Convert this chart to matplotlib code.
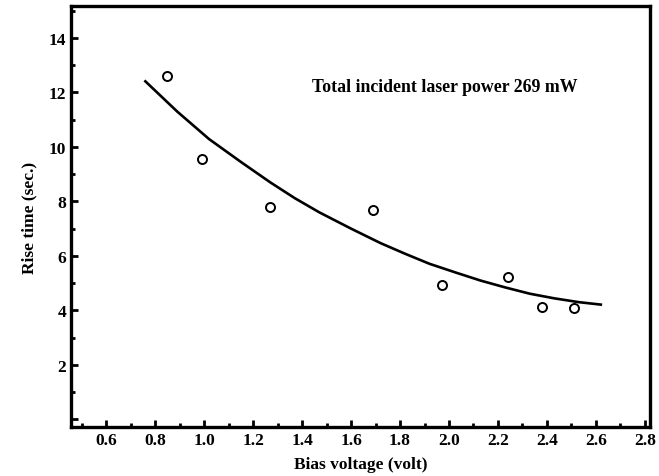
import numpy as np
import matplotlib
matplotlib.use("Agg")
import matplotlib.pyplot as plt
from matplotlib.ticker import MultipleLocator, FuncFormatter

# measured points
bias_v = [0.85, 0.99, 1.27, 1.69, 1.97, 2.24, 2.38, 2.51]
rise_t = [12.62, 9.56, 7.79, 7.70, 4.92, 5.24, 4.14, 4.09]

# fitted curve
fit_v = [0.76, 0.89, 1.02, 1.15, 1.27, 1.37, 1.47, 1.60, 1.72, 1.82, 1.92,
         2.03, 2.13, 2.23, 2.33, 2.43, 2.53, 2.62]
fit_t = [12.41, 11.30, 10.29, 9.45, 8.70, 8.12, 7.60, 7.00, 6.47, 6.08, 5.71,
         5.38, 5.09, 4.84, 4.61, 4.44, 4.30, 4.21]

plt.rcParams['font.family'] = ['Liberation Serif', 'DejaVu Serif']
plt.rcParams['font.weight'] = 'bold'

fig = plt.figure(figsize=(6.59, 4.77), dpi=100)
ax = fig.add_axes([0.108, 0.103, 0.878, 0.882])

ax.plot(fit_v, fit_t, '-', color='black', lw=1.9)
ax.plot(bias_v, rise_t, 'o', mfc='white', mec='black', mew=1.4, ms=6.5)

ax.set_xlim(0.457, 2.82)
ax.set_ylim(-0.28, 15.17)

ax.xaxis.set_major_locator(MultipleLocator(0.2))
ax.xaxis.set_minor_locator(MultipleLocator(0.1))
ax.yaxis.set_major_locator(MultipleLocator(2))
ax.yaxis.set_minor_locator(MultipleLocator(1))
ax.xaxis.set_major_formatter(FuncFormatter(lambda v, p: "%.1f" % v))
ax.yaxis.set_major_formatter(FuncFormatter(lambda v, p: "" if abs(v) < 0.01 else "%d" % v))

ax.tick_params(which='both', direction='in', top=False, right=False, labelsize=12.5, width=2)
ax.tick_params(which='major', length=5)
ax.tick_params(which='minor', length=3)
for s in ax.spines.values():
    s.set_linewidth(2.4)

ax.set_xlabel("Bias voltage (volt)", fontsize=12.5, fontweight='bold', labelpad=6)
ax.set_ylabel("Rise time (sec.)", fontsize=12.5, fontweight='bold', labelpad=8)

ax.text(0.417, 0.81, "Total incident laser power 269 mW", transform=ax.transAxes,
        fontsize=12.8, fontweight='bold', va='center')

fig.savefig("out.png", dpi=100)
